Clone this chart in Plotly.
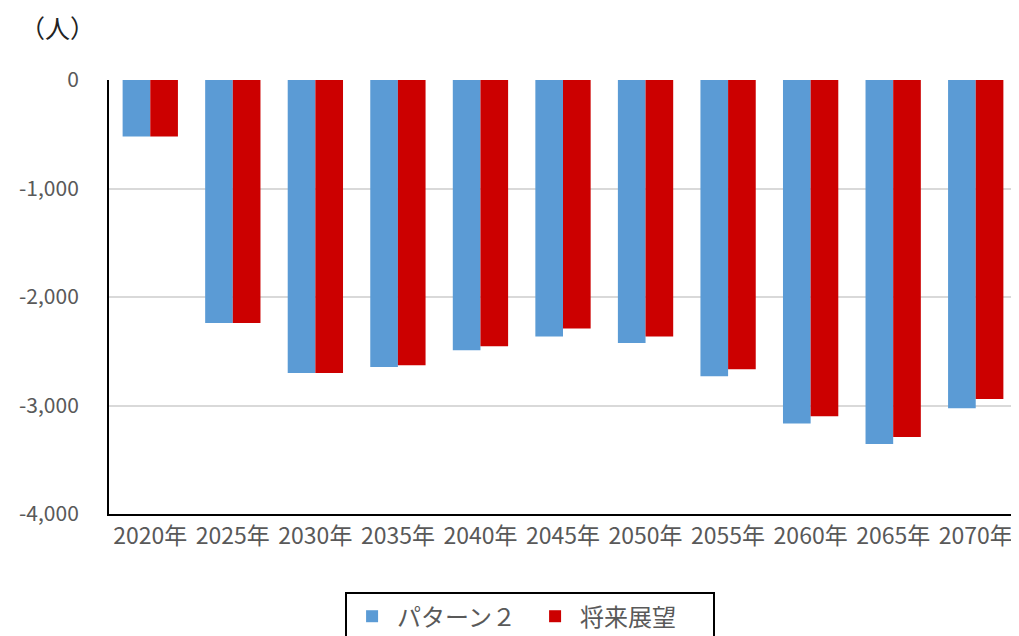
import plotly.graph_objects as go

categories = ["2020年", "2025年", "2030年", "2035年", "2040年", "2045年",
              "2050年", "2055年", "2060年", "2065年", "2070年"]
pattern2 = [-520, -2240, -2700, -2645, -2490, -2365, -2425, -2730, -3165, -3355, -3025]
outlook = [-520, -2240, -2700, -2630, -2455, -2290, -2365, -2665, -3100, -3290, -2940]
series_names = ["パターン２", "将来展望"]
y_tickvals = [0, -1000, -2000, -3000, -4000]
y_ticktext = ["0", "-1,000", "-2,000", "-3,000", "-4,000"]
unit_label = "（人）"

FONT = "Noto Sans CJK JP, sans-serif"

fig = go.Figure()
fig.add_trace(go.Bar(x=categories, y=pattern2, name=series_names[0],
                     marker=dict(color="#5B9BD5", line=dict(width=0))))
fig.add_trace(go.Bar(x=categories, y=outlook, name=series_names[1],
                     marker=dict(color="#CC0000", line=dict(width=0))))

# page body has an 8px margin, so the figure is sized/placed to compensate
fig.update_layout(
    width=1011, height=628,
    margin=dict(l=101, r=2, t=72, b=122, autoexpand=False),
    paper_bgcolor="white", plot_bgcolor="white",
    barmode="group", bargap=0.33, bargroupgap=0,
    font=dict(family=FONT, size=21, color="#595959"),
    showlegend=True,
    legend=dict(orientation="h", x=0.26, xanchor="left", y=-0.18, yanchor="top",
                bordercolor="black", borderwidth=2, bgcolor="white",
                font=dict(family=FONT, size=24, color="#595959"),
                itemwidth=40, entrywidth=128, traceorder="normal"),
    xaxis=dict(showline=True, linecolor="black", linewidth=2, ticks="",
               tickfont=dict(family=FONT, size=23, color="#595959"),
               showgrid=False, automargin=False),
    yaxis=dict(range=[-4000, 0], tickvals=y_tickvals, ticktext=y_ticktext,
               showgrid=True, gridcolor="#D9D9D9", gridwidth=1.5,
               showline=True, linecolor="black", linewidth=2,
               zeroline=False, ticks="", ticklabelstandoff=24, automargin=False,
               tickfont=dict(family=FONT, size=21, color="#595959")),
    annotations=[dict(text=unit_label, xref="paper", yref="paper",
                      x=-0.057, y=1.122, xanchor="center", yanchor="middle",
                      showarrow=False,
                      font=dict(family="Noto Sans CJK JP", size=25, color="#222222"))],
    shapes=[dict(type="line", xref="paper", yref="paper", x0=1, x1=1, y0=0, y1=1,
                 line=dict(color="#7f7f7f", width=1))],
)

fig.write_html("out.html")
